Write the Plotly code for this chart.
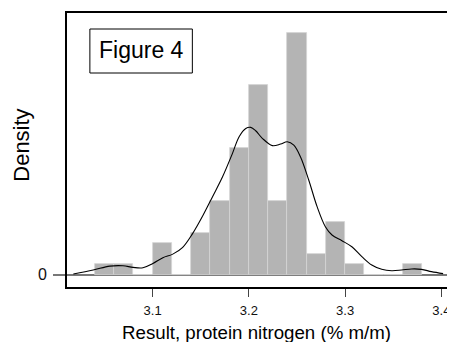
import plotly.graph_objects as go

# Histogram bins (left edges), width 0.02, and counts
bin_left = [3.04, 3.06, 3.08, 3.10, 3.12, 3.14, 3.16, 3.18, 3.20, 3.22, 3.24, 3.26, 3.28, 3.30, 3.32, 3.34, 3.36]
counts   = [1,    1,    0,    3,    0,    4,    7,    12,   18,   7,    23,   2,    5,    1,    0,    0,    1]
bin_width = 0.02
n_total = sum(counts)

# Density curve
kde_x = [3.0177, 3.0383, 3.0556, 3.0693, 3.0797, 3.0900, 3.1003, 3.1107, 3.1210, 3.1313,
         3.1417, 3.1520, 3.1623, 3.1727, 3.1830, 3.1899, 3.1968, 3.2020, 3.2071, 3.2140,
         3.2244, 3.2330, 3.2399, 3.2467, 3.2536, 3.2622, 3.2709, 3.2795, 3.2864, 3.2967,
         3.3070, 3.3174, 3.3277, 3.3380, 3.3484, 3.3587, 3.3690, 3.3794, 3.3897, 3.4018]
kde_y = [0.04, 0.26, 0.48, 0.50, 0.41, 0.39, 0.63, 0.95, 1.15, 1.53,
         2.31, 3.28, 4.36, 5.47, 6.78, 7.71, 8.17, 8.23, 8.04, 7.62,
         7.21, 7.30, 7.43, 7.24, 6.59, 5.29, 3.80, 2.68, 2.22, 1.90,
         1.56, 1.01, 0.54, 0.30, 0.22, 0.26, 0.32, 0.30, 0.17, 0.06]

x_ticks = [3.1, 3.2, 3.3, 3.4]
x_tick_labels = ["3.1", "3.2", "3.3", "3.4"]

centers = [b + bin_width / 2 for b in bin_left]
density = [c / (n_total * bin_width) for c in counts]

FONT = "Arial, Liberation Sans, sans-serif"

# page body margin offset (window px)
OX, OY = 8, 8
W, H = 455 - OX, 342 - OY
PL, PR, PT, PB = 67, 453, 13, 287  # plot area in window px
PW, PH = PR - PL, PB - PT


def px(x):
    return (x - PL) / PW


def py(y):
    return (PB - y) / PH


fig = go.Figure()
fig.add_trace(go.Bar(
    x=centers, y=density, width=bin_width,
    marker=dict(color="#b4b4b4", line=dict(color="#d4d4d4", width=0.8)),
    hoverinfo="skip", showlegend=False,
))
fig.add_trace(go.Scatter(
    x=kde_x, y=kde_y, mode="lines", line=dict(color="black", width=1.1, shape="spline"),
    showlegend=False,
))

fig.update_layout(
    width=W, height=H,
    margin=dict(l=PL - OX, r=455 - PR, t=PT - OY, b=342 - PB, pad=0),
    paper_bgcolor="white", plot_bgcolor="white",
    font=dict(family=FONT, color="black"),
    bargap=0,
    xaxis=dict(
        range=[3.0111, 3.4100], tickvals=x_ticks, ticktext=x_tick_labels,
        ticks="outside", ticklen=8, tickwidth=1, tickcolor="#444",
        tickfont=dict(size=13, color="#111"), ticklabelstandoff=3,
        showline=True, linecolor="black", linewidth=1.6, mirror=True,
        showgrid=False, zeroline=False,
    ),
    yaxis=dict(
        range=[-0.687, 14.62], tickvals=[0], ticktext=["0"],
        ticks="outside", ticklen=12, tickwidth=2, tickcolor="#777",
        tickfont=dict(size=16, color="#111"), ticklabelstandoff=3,
        showline=True, linecolor="black", linewidth=1.6, mirror=True,
        showgrid=False, zeroline=True, zerolinecolor="#777", zerolinewidth=2,
    ),
    shapes=[dict(type="rect", xref="paper", yref="paper",
                 x0=px(90), x1=px(193), y0=py(73), y1=py(29),
                 line=dict(color="black", width=1), fillcolor="white", layer="above")],
    annotations=[
        dict(text="Figure 4", xref="paper", yref="paper",
             x=px(141.5), y=py(50), showarrow=False,
             xanchor="center", yanchor="middle", font=dict(size=23, color="black")),
        dict(text="Density", xref="paper", yref="paper",
             x=px(21), y=py(145.5), showarrow=False, textangle=-90,
             xanchor="center", yanchor="middle", font=dict(size=22, color="black")),
        dict(text="Result, protein nitrogen (% m/m)", xref="paper", yref="paper",
             x=px(257.5), y=py(332), showarrow=False,
             xanchor="center", yanchor="middle", font=dict(size=18.7, color="black")),
    ],
)

fig.write_html("out.html")
